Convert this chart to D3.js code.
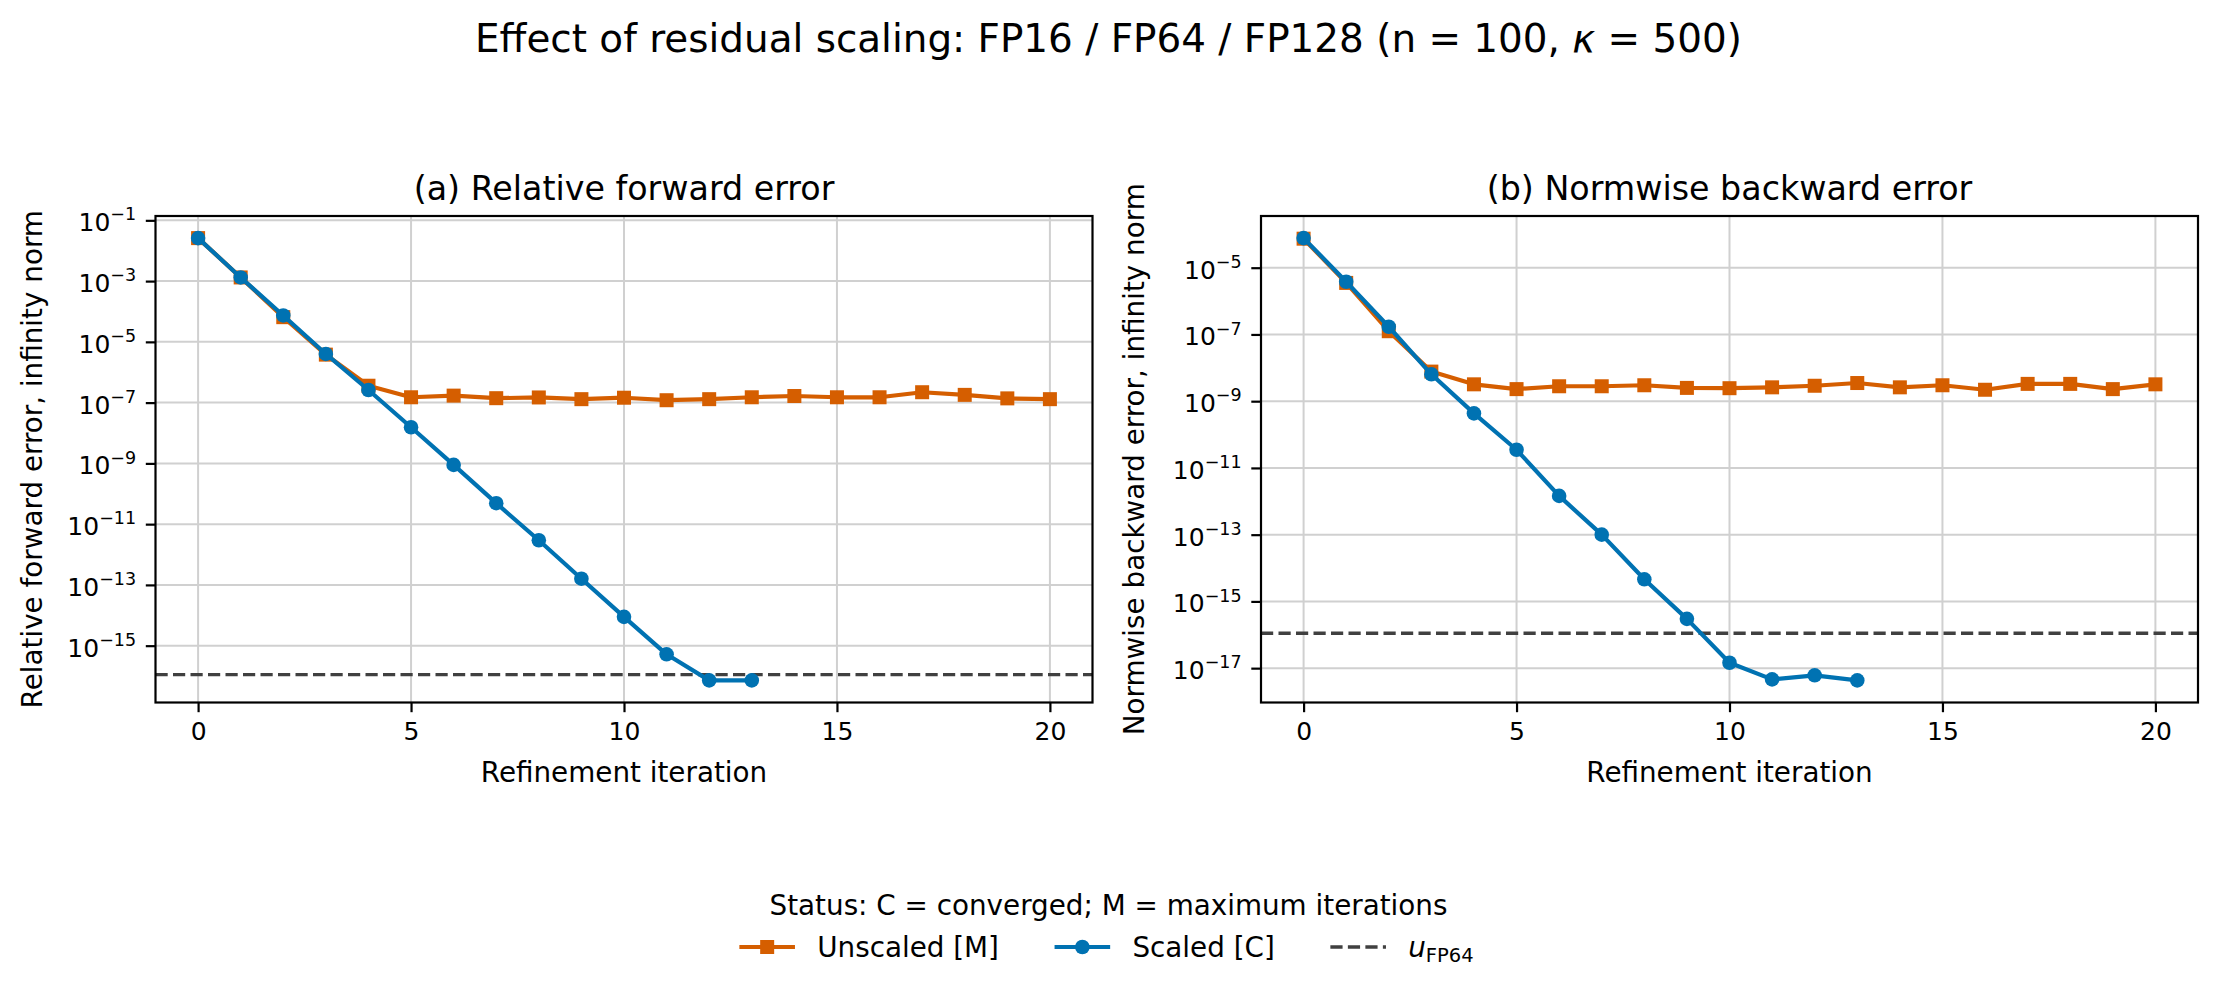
<!DOCTYPE html>
<html>
<head>
<meta charset="utf-8">
<script src="https://cdn.jsdelivr.net/npm/d3@7"></script>
<style>
  html, body { margin: 0; padding: 0; background: #fff; }
  text { font-family: "DejaVu Sans", sans-serif; fill: #000; }
</style>
</head>
<body>
<svg id="chart" width="2217" height="996"></svg>
<script>
// iterations
const iterUnscaled = [0, 1, 2, 3, 4, 5, 6, 7, 8, 9, 10, 11, 12, 13, 14, 15, 16, 17, 18, 19, 20];
const iterScaled = [0, 1, 2, 3, 4, 5, 6, 7, 8, 9, 10, 11, 12, 13];

// (a) relative forward error
const fwdUnscaled = [2.6e-2, 1.32e-3, 6.5e-5, 3.8e-6, 3.6e-7, 1.5e-7, 1.7e-7, 1.4e-7, 1.48e-7, 1.3e-7,
    1.45e-7, 1.2e-7, 1.3e-7, 1.5e-7, 1.65e-7, 1.5e-7, 1.5e-7, 2.2e-7, 1.8e-7, 1.38e-7, 1.3e-7];
const fwdScaled = [2.6e-2, 1.32e-3, 7.4e-5, 4.0e-6, 2.6e-7, 1.55e-8, 8.9e-10, 4.9e-11, 2.95e-12, 1.6e-13,
    8.9e-15, 5.2e-16, 7.2e-17, 7.2e-17];

// (b) normwise backward error
const bwdUnscaled = [7.4e-5, 3.5e-6, 1.25e-7, 7.7e-9, 3.2e-9, 2.3e-9, 2.8e-9, 2.8e-9, 3.0e-9, 2.5e-9,
    2.45e-9, 2.6e-9, 2.9e-9, 3.5e-9, 2.6e-9, 3.0e-9, 2.2e-9, 3.3e-9, 3.3e-9, 2.3e-9, 3.2e-9];
const bwdScaled = [7.7e-5, 3.8e-6, 1.7e-7, 6.4e-9, 4.3e-10, 3.5e-11, 1.45e-12, 1.0e-13, 4.6e-15, 3.0e-16,
    1.45e-17, 4.6e-18, 6.1e-18, 4.3e-18];

const uFP64 = 1.11e-16;

const xTicks = [0, 5, 10, 15, 20];
const yTickExpA = [-1, -3, -5, -7, -9, -11, -13, -15];
const yTickExpB = [-5, -7, -9, -11, -13, -15, -17];

const ORANGE = "#D55E00";
const BLUE = "#0072B2";
const DASH = "#404040";

const svg = d3.select("#chart");
svg.append("rect").attr("width", 2217).attr("height", 996).attr("fill", "#fff");

svg.append("text")
    .attr("x", 1108.5).attr("y", 52)
    .attr("text-anchor", "middle")
    .attr("font-size", "38.9px")
    .call(t => {
        t.append("tspan").text("Effect of residual scaling: FP16 / FP64 / FP128 (n = 100, ");
        t.append("tspan").attr("font-style", "italic").text("κ");
        t.append("tspan").text(" = 500)");
    });

function logExtent(arrs) {
    const all = arrs.flat();
    const lo = Math.log10(d3.min(all)), hi = Math.log10(d3.max(all));
    const m = (hi - lo) * 0.05;
    return [Math.pow(10, lo - m), Math.pow(10, hi + m)];
}

function drawPanel(left, opts) {
    const top = 216, w = 937, h = 486.5;
    const g = svg.append("g").attr("transform", `translate(${left}, ${top})`);

    const x = d3.scaleLinear().domain([-1, 21]).range([0, w]);
    const y = d3.scaleLog().domain(logExtent([opts.unscaled, opts.scaled])).range([h, 0]);
    const yTicks = opts.yExp.map(e => Math.pow(10, e));

    // grid
    g.append("g").selectAll("line").data(xTicks).enter().append("line")
        .attr("x1", d => x(d)).attr("x2", d => x(d))
        .attr("y1", 0).attr("y2", h)
        .attr("stroke", "#d0d0d0").attr("stroke-width", 2);
    g.append("g").selectAll("line").data(yTicks).enter().append("line")
        .attr("x1", 0).attr("x2", w)
        .attr("y1", d => y(d)).attr("y2", d => y(d))
        .attr("stroke", "#d0d0d0").attr("stroke-width", 2);

    // u_FP64 reference
    g.append("line")
        .attr("x1", 0).attr("x2", w)
        .attr("y1", y(uFP64)).attr("y2", y(uFP64))
        .attr("stroke", DASH).attr("stroke-width", 3.3)
        .attr("stroke-dasharray", "12.2 5.3");

    const line = d3.line().x(d => x(d[0])).y(d => y(d[1]));

    const unsc = iterUnscaled.map((it, i) => [it, opts.unscaled[i]]);
    const sc = iterScaled.map((it, i) => [it, opts.scaled[i]]);

    g.append("path").datum(unsc)
        .attr("d", line).attr("fill", "none")
        .attr("stroke", ORANGE).attr("stroke-width", 4.2).attr("stroke-linejoin", "round");
    g.append("g").selectAll("rect").data(unsc).enter().append("rect")
        .attr("x", d => x(d[0]) - 7).attr("y", d => y(d[1]) - 7)
        .attr("width", 14).attr("height", 14)
        .attr("fill", ORANGE);

    g.append("path").datum(sc)
        .attr("d", line).attr("fill", "none")
        .attr("stroke", BLUE).attr("stroke-width", 4.2).attr("stroke-linejoin", "round");
    g.append("g").selectAll("circle").data(sc).enter().append("circle")
        .attr("cx", d => x(d[0])).attr("cy", d => y(d[1]))
        .attr("r", 7.3)
        .attr("fill", BLUE);

    // frame
    g.append("rect").attr("width", w).attr("height", h)
        .attr("fill", "none").attr("stroke", "#000").attr("stroke-width", 2.2);

    // axes
    const xAxis = g.append("g").attr("transform", `translate(0, ${h})`)
        .call(d3.axisBottom(x).tickValues(xTicks).tickSize(9.7).tickPadding(9.7));
    const yAxis = g.append("g")
        .call(d3.axisLeft(y).tickValues(yTicks).tickSize(9.7).tickPadding(9.7));
    [xAxis, yAxis].forEach(a => {
        a.select(".domain").remove();
        a.selectAll(".tick line").attr("stroke", "#000").attr("stroke-width", 2.2);
        a.selectAll(".tick text")
            .attr("font-family", "DejaVu Sans, sans-serif")
            .attr("font-size", "25px").attr("fill", "#000");
    });
    yAxis.selectAll(".tick text").each(function(d) {
        const t = d3.select(this);
        const e = Math.round(Math.log10(d));
        t.text("").attr("dy", "0.42em");
        t.append("tspan").text("10");
        t.append("tspan").attr("font-size", "17.5px").attr("dy", "-0.62em")
            .text("\u2212" + Math.abs(e));
    });

    // titles
    g.append("text").attr("x", w / 2).attr("y", -16)
        .attr("text-anchor", "middle").attr("font-size", "33.3px")
        .text(opts.title);
    g.append("text").attr("x", w / 2).attr("y", 566)
        .attr("text-anchor", "middle").attr("font-size", "27.8px")
        .text("Refinement iteration");
    g.append("text")
        .attr("transform", `translate(${opts.ylabelX - left}, ${h / 2}) rotate(-90)`)
        .attr("text-anchor", "middle").attr("dy", "0.35em").attr("font-size", "27.8px")
        .text(opts.ylabel);
}

drawPanel(155.5, {
    unscaled: fwdUnscaled, scaled: fwdScaled, yExp: yTickExpA,
    title: "(a) Relative forward error",
    ylabel: "Relative forward error, infinity norm", ylabelX: 32
});
drawPanel(1261, {
    unscaled: bwdUnscaled, scaled: bwdScaled, yExp: yTickExpB,
    title: "(b) Normwise backward error",
    ylabel: "Normwise backward error, infinity norm", ylabelX: 1134
});

// legend
const legend = svg.append("g");
legend.append("text").attr("x", 1108.5).attr("y", 915)
    .attr("text-anchor", "middle").attr("font-size", "27.8px")
    .text("Status: C = converged; M = maximum iterations");

const fs = 27.8, handleLen = 2 * fs, pad = 0.8 * fs, colSp = 2 * fs, baseY = 957;
const items = [
    { label: "Unscaled [M]", kind: "square", color: ORANGE },
    { label: "Scaled [C]", kind: "circle", color: BLUE },
    { label: "u", kind: "dash", color: DASH }
];
const entries = items.map(it => {
    const e = legend.append("g");
    const t = e.append("text").attr("font-size", fs + "px").attr("y", baseY);
    if (it.kind === "dash") {
        t.append("tspan").attr("font-style", "italic").text("u");
        t.append("tspan").attr("font-size", "19.5px").attr("dy", "0.25em").text("FP64");
    } else {
        t.text(it.label);
    }
    return { it, e, t, tw: t.node().getComputedTextLength() };
});
const total = d3.sum(entries, d => handleLen + pad + d.tw) + colSp * (entries.length - 1);
let cx = 1106.5 - total / 2;
const hy = baseY - 10;
entries.forEach(d => {
    if (d.it.kind === "dash") {
        d.e.append("line").attr("x1", cx).attr("x2", cx + handleLen)
            .attr("y1", hy).attr("y2", hy)
            .attr("stroke", d.it.color).attr("stroke-width", 3.3)
            .attr("stroke-dasharray", "12.2 5.3");
    } else {
        d.e.append("line").attr("x1", cx).attr("x2", cx + handleLen)
            .attr("y1", hy).attr("y2", hy)
            .attr("stroke", d.it.color).attr("stroke-width", 4.2);
        if (d.it.kind === "square") {
            d.e.append("rect").attr("x", cx + handleLen / 2 - 7).attr("y", hy - 7)
                .attr("width", 14).attr("height", 14).attr("fill", d.it.color);
        } else {
            d.e.append("circle").attr("cx", cx + handleLen / 2).attr("cy", hy)
                .attr("r", 7.3).attr("fill", d.it.color);
        }
    }
    d.t.attr("x", cx + handleLen + pad);
    cx += handleLen + pad + d.tw + colSp;
});
</script>
</body>
</html>
